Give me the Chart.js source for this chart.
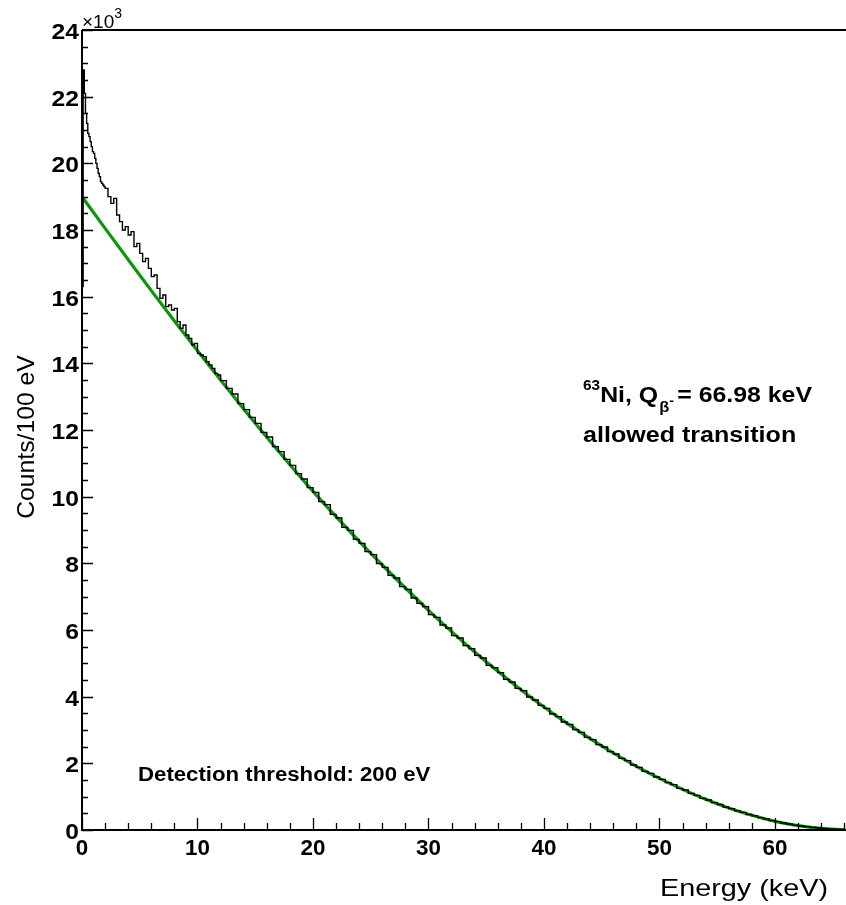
<!DOCTYPE html>
<html>
<head>
<meta charset="utf-8">
<script src="https://cdn.jsdelivr.net/npm/chart.js@4.4.1/dist/chart.umd.min.js"></script>
<style>
  html, body { margin: 0; padding: 0; background: #fff; }
  #wrap { width: 846px; height: 905px; }
</style>
</head>
<body>
<div id="wrap"><canvas id="spectrum"></canvas></div>
<script>
// Measured spectrum, 63Ni, counts per 100 eV (bin lower edge in keV)
// fine bins (0.1 keV) below 2 keV
const lowEdges = [0.0, 0.1, 0.2, 0.3, 0.4, 0.5, 0.6, 0.7, 0.8, 0.9,
  1.0, 1.1, 1.2, 1.3, 1.4, 1.5, 1.6, 1.7, 1.8, 1.9];
const lowCounts = [16300, 22800, 22100, 21500, 21200, 20900, 20800, 20650, 20500, 20350,
  20300, 20150, 20000, 19850, 19700, 19600, 19450, 19400, 19350, 19300];

// 0.25 keV bins from 2 to 12 keV
const midStart = 2.0;
const midWidth = 0.25;
const midCounts = [
  19250, 19000, 18800, 18950, 18450, 18250, 18000, 18100, 17850, 17950,   // 2 - 4.5
  17500, 17600, 17300, 17050, 17150, 16850, 16600, 16650, 16250, 15950,   // 4.5 - 7
  16050, 15700, 15750, 15600, 15650, 15250, 15050, 15150, 14850, 14750,   // 7 - 9.5
  14550, 14600, 14300, 14250, 14200, 14050, 13950, 13850, 13700, 13650    // 9.5 - 12
];

// 0.5 keV bins from 12 keV up to the endpoint
const mainStart = 12.0;
const mainWidth = 0.5;
const mainCounts = [
  13480, 13250, 13080, 12790, 12610, 12380, 12200, 11930, 11790, 11500,   // 12 - 17
  11350, 11120, 10940, 10690, 10530, 10270, 10130, 9850, 9760, 9470,      // 17 - 22
  9360, 9080, 8990, 8720, 8600, 8350, 8260, 7990, 7880, 7640,             // 22 - 27
  7560, 7300, 7220, 6960, 6800, 6700, 6460, 6380, 6150, 6060,             // 27 - 32
  5830, 5760, 5530, 5440, 5240, 5160, 4940, 4870, 4720, 4520,             // 32 - 37
  4440, 4250, 4180, 3990, 3900, 3740, 3650, 3480, 3400, 3240,             // 37 - 42
  3170, 3010, 2930, 2780, 2710, 2560, 2490, 2350, 2280, 2150,             // 42 - 47
  2080, 1950, 1880, 1760, 1700, 1590, 1520, 1420, 1360, 1250,             // 47 - 52
  1200, 1100, 1040, 950, 900, 820, 765, 690, 640, 575,                    // 52 - 57
  530, 465, 425, 370, 330, 280, 250, 210, 180, 145,                       // 57 - 62
  120, 100, 80, 60, 45, 35, 25, 15                                        // 62 - 66
];

// allowed-transition fit curve
const fitEnergy = [0, 2, 4, 6, 8, 10, 12, 14, 16, 18, 20, 22, 24, 26, 28, 30, 32,
  34, 36, 38, 40, 42, 44, 46, 48, 50, 52, 54, 56, 58, 60, 62, 64, 66];
const fitCounts = [19000, 18050, 17110, 16180, 15270, 14380, 13500, 12630, 11780, 10960,
  10160, 9400, 8660, 7950, 7260, 6590, 5950, 5340, 4760, 4210, 3690, 3200, 2740, 2310,
  1910, 1550, 1220, 920, 660, 440, 260, 130, 50, 10];

// axis ticks
const xTickLabels = [0, 10, 20, 30, 40, 50, 60];
const xMinorStep = 2;
const yTickLabels = [0, 2, 4, 6, 8, 10, 12, 14, 16, 18, 20, 22, 24];   // x10^3
const yMinorStep = 500;

const X_MAX = 66.15;
const Y_MAX = 24000;

// build histogram points (step drawn from each bin's lower edge)
const histPoints = [];
lowEdges.forEach((e, i) => histPoints.push({ x: e, y: lowCounts[i] }));
midCounts.forEach((c, i) => histPoints.push({ x: midStart + i * midWidth, y: c }));
mainCounts.forEach((c, i) => histPoints.push({ x: mainStart + i * mainWidth, y: c }));
histPoints.push({
  x: mainStart + mainCounts.length * mainWidth,
  y: mainCounts[mainCounts.length - 1]
});
const fitPoints = fitEnergy.map((e, i) => ({ x: e, y: fitCounts[i] }));

const FONT = "'Liberation Sans', Arial, Helvetica, sans-serif";

// draw text stretched horizontally like the ROOT canvas
function drawText(ctx, text, x, y, size, bold, align, sx) {
  ctx.save();
  ctx.font = (bold ? "bold " : "") + size + "px " + FONT;
  ctx.textBaseline = "alphabetic";
  ctx.textAlign = "left";
  const w = ctx.measureText(text).width * sx;
  let x0 = x;
  if (align === "center") x0 = x - w / 2;
  if (align === "right") x0 = x - w;
  ctx.translate(x0, y);
  ctx.scale(sx, 1);
  ctx.fillText(text, 0, 0);
  ctx.restore();
  return w;
}

const rootAxes = {
  id: "rootAxes",
  afterDatasetsDraw(chart) {
    const ctx = chart.ctx;
    const xs = chart.scales.x;
    const ys = chart.scales.y;
    const a = chart.chartArea;
    ctx.save();
    ctx.fillStyle = "#000";
    ctx.strokeStyle = "#000";

    // frame: left, bottom, top
    ctx.lineWidth = 2;
    ctx.beginPath();
    ctx.moveTo(a.left, a.top);
    ctx.lineTo(a.right, a.top);
    ctx.moveTo(a.left, a.top);
    ctx.lineTo(a.left, a.bottom);
    ctx.lineTo(a.right, a.bottom);
    ctx.stroke();

    // ticks (inward)
    ctx.lineWidth = 1.3;
    ctx.beginPath();
    for (let v = 0; v <= X_MAX; v += xMinorStep) {
      const px = Math.round(xs.getPixelForValue(v)) + 0.5;
      const major = xTickLabels.includes(v);
      ctx.moveTo(px, a.bottom);
      ctx.lineTo(px, a.bottom - (major ? 12 : 7));
    }
    for (let v = 0; v <= Y_MAX; v += yMinorStep) {
      const py = Math.round(ys.getPixelForValue(v)) + 0.5;
      const major = v % 2000 === 0;
      ctx.moveTo(a.left, py);
      ctx.lineTo(a.left + (major ? 11 : 6), py);
    }
    ctx.stroke();

    // tick labels
    xTickLabels.forEach((v) => {
      drawText(ctx, String(v), xs.getPixelForValue(v), a.bottom + 25, 22, true, "center", 1.02);
    });
    yTickLabels.forEach((v) => {
      drawText(ctx, String(v), a.left - 3, ys.getPixelForValue(v * 1000) + 9, 22, true, "right", 1.12);
    });

    // exponent
    let w = drawText(ctx, "\u00d710", a.left, a.top - 2, 19, false, "left", 1.0);
    drawText(ctx, "3", a.left + w, a.top - 12, 14, false, "left", 1.0);

    // axis titles
    drawText(ctx, "Energy (keV)", a.right - 18, 896, 24, false, "right", 1.2);
    ctx.save();
    ctx.translate(34, 437);
    ctx.rotate(-Math.PI / 2);
    drawText(ctx, "Counts/100 eV", 0, 0, 24, false, "center", 1.03);
    ctx.restore();

    // annotations
    let x = 583;
    x += drawText(ctx, "63", x, 390, 14, true, "left", 1.1);
    x += drawText(ctx, "Ni, Q", x, 402, 22, true, "left", 1.13);
    const xb = x;
    x += drawText(ctx, "\u03b2", xb + 1, 412, 15, true, "left", 1.1);
    drawText(ctx, "-", x + 1, 405, 13, true, "left", 1.1);
    drawText(ctx, "= 66.98 keV", x + 9, 402, 22, true, "left", 1.13);
    drawText(ctx, "allowed transition", 583, 442, 22, true, "left", 1.14);
    drawText(ctx, "Detection threshold: 200 eV", 138, 781, 20, true, "left", 1.11);
    ctx.restore();
  }
};

new Chart(document.getElementById("spectrum").getContext("2d"), {
  type: "line",
  data: {
    datasets: [
      {
        label: "data",
        data: histPoints,
        stepped: "before",
        borderColor: "#000",
        borderWidth: 1.4,
        pointRadius: 0,
        fill: false,
        order: 0
      },
      {
        label: "fit",
        data: fitPoints,
        borderColor: "#0b960b",
        borderWidth: 3.2,
        pointRadius: 0,
        cubicInterpolationMode: "monotone",
        fill: false,
        order: 1
      }
    ]
  },
  options: {
    responsive: true,
    maintainAspectRatio: false,
    animation: false,
    layout: { padding: { top: 30, right: 0, left: 0, bottom: 0 } },
    plugins: {
      legend: { display: false },
      tooltip: { enabled: false },
      title: { display: false }
    },
    scales: {
      x: {
        type: "linear",
        min: 0,
        max: X_MAX,
        grid: { display: false },
        border: { display: false },
        ticks: { display: false },
        afterFit: (s) => { s.height = 75; }
      },
      y: {
        type: "linear",
        min: 0,
        max: Y_MAX,
        grid: { display: false },
        border: { display: false },
        ticks: { display: false },
        afterFit: (s) => { s.width = 82; }
      }
    }
  },
  plugins: [rootAxes]
});
</script>
</body>
</html>
